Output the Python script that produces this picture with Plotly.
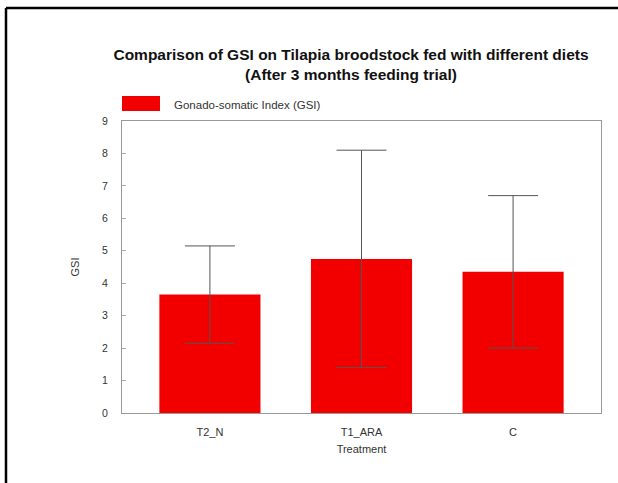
import plotly.graph_objects as go

# Gonado-somatic index per diet treatment (mean and error)
treatments = ["T2_N", "T1_ARA", "C"]
gsi_mean = [3.65, 4.75, 4.35]
gsi_err = [1.5, 3.35, 2.35]
y_ticks = [0, 1, 2, 3, 4, 5, 6, 7, 8, 9]

W, H = 618, 483
L, R, T, B = 122, 17, 121, 70
PW, PH = W - L - R, H - T - B


def px_x(x):
    return (x - L) / PW


def px_y(y):
    return (H - B - y) / PH


FONT = "Liberation Sans, Arial, sans-serif"
TXT = "#333333"

fig = go.Figure()
fig.add_trace(go.Bar(
    x=treatments,
    y=gsi_mean,
    name="Gonado-somatic Index (GSI)",
    marker=dict(color="#f20000", line=dict(width=0)),
    width=0.667,
    error_y=dict(type="data", array=gsi_err, visible=True,
                 color="#555555", thickness=1, width=25),
    showlegend=False,
))

shapes = [
    # outer frame edges
    dict(type="line", xref="paper", yref="paper",
         x0=px_x(6), x1=px_x(620), y0=px_y(8), y1=px_y(8),
         line=dict(color="black", width=2.5)),
    dict(type="line", xref="paper", yref="paper",
         x0=px_x(6), x1=px_x(6), y0=px_y(8), y1=px_y(490),
         line=dict(color="black", width=2.5)),
    # legend swatch
    dict(type="rect", xref="paper", yref="paper",
         x0=px_x(122), x1=px_x(160), y0=px_y(111), y1=px_y(96),
         fillcolor="#f20000", line=dict(width=0)),
]

annotations = [
    dict(text="Gonado-somatic Index (GSI)", xref="paper", yref="paper",
         x=px_x(172), y=px_y(105), xanchor="left", yanchor="middle",
         showarrow=False, font=dict(family=FONT, size=11.5, color=TXT)),
]

fig.update_layout(
    width=W, height=H,
    margin=dict(l=L, r=R, t=T, b=B),
    paper_bgcolor="white", plot_bgcolor="white",
    title=dict(
        text="<b>Comparison of GSI on Tilapia broodstock fed with different diets<br>(After 3 months feeding trial)</b>",
        xref="container", x=351 / W, xanchor="center",
        yref="container", y=1 - 60 / H, yanchor="top",
        font=dict(family=FONT, size=15.5, color="#111111"),
    ),
    shapes=shapes,
    annotations=annotations,
)

fig.update_xaxes(
    range=[-0.58, 2.58],
    showline=True, linecolor="#999999", linewidth=1, mirror=True,
    showgrid=False, ticks="", ticklabelstandoff=9,
    tickfont=dict(family=FONT, size=11, color=TXT),
    title=dict(text="Treatment", font=dict(family=FONT, size=11, color=TXT), standoff=8),
)
fig.update_yaxes(
    range=[0, 9],
    tickvals=y_ticks,
    showline=True, linecolor="#999999", linewidth=1, mirror=True,
    showgrid=False, ticks="inside", ticklen=4, tickcolor="#aaaaaa",
    ticklabelstandoff=11,
    tickfont=dict(family=FONT, size=10.5, color=TXT),
    title=dict(text="GSI", font=dict(family=FONT, size=11, color=TXT), standoff=20),
    zeroline=False,
)

fig.write_html("out.html")
